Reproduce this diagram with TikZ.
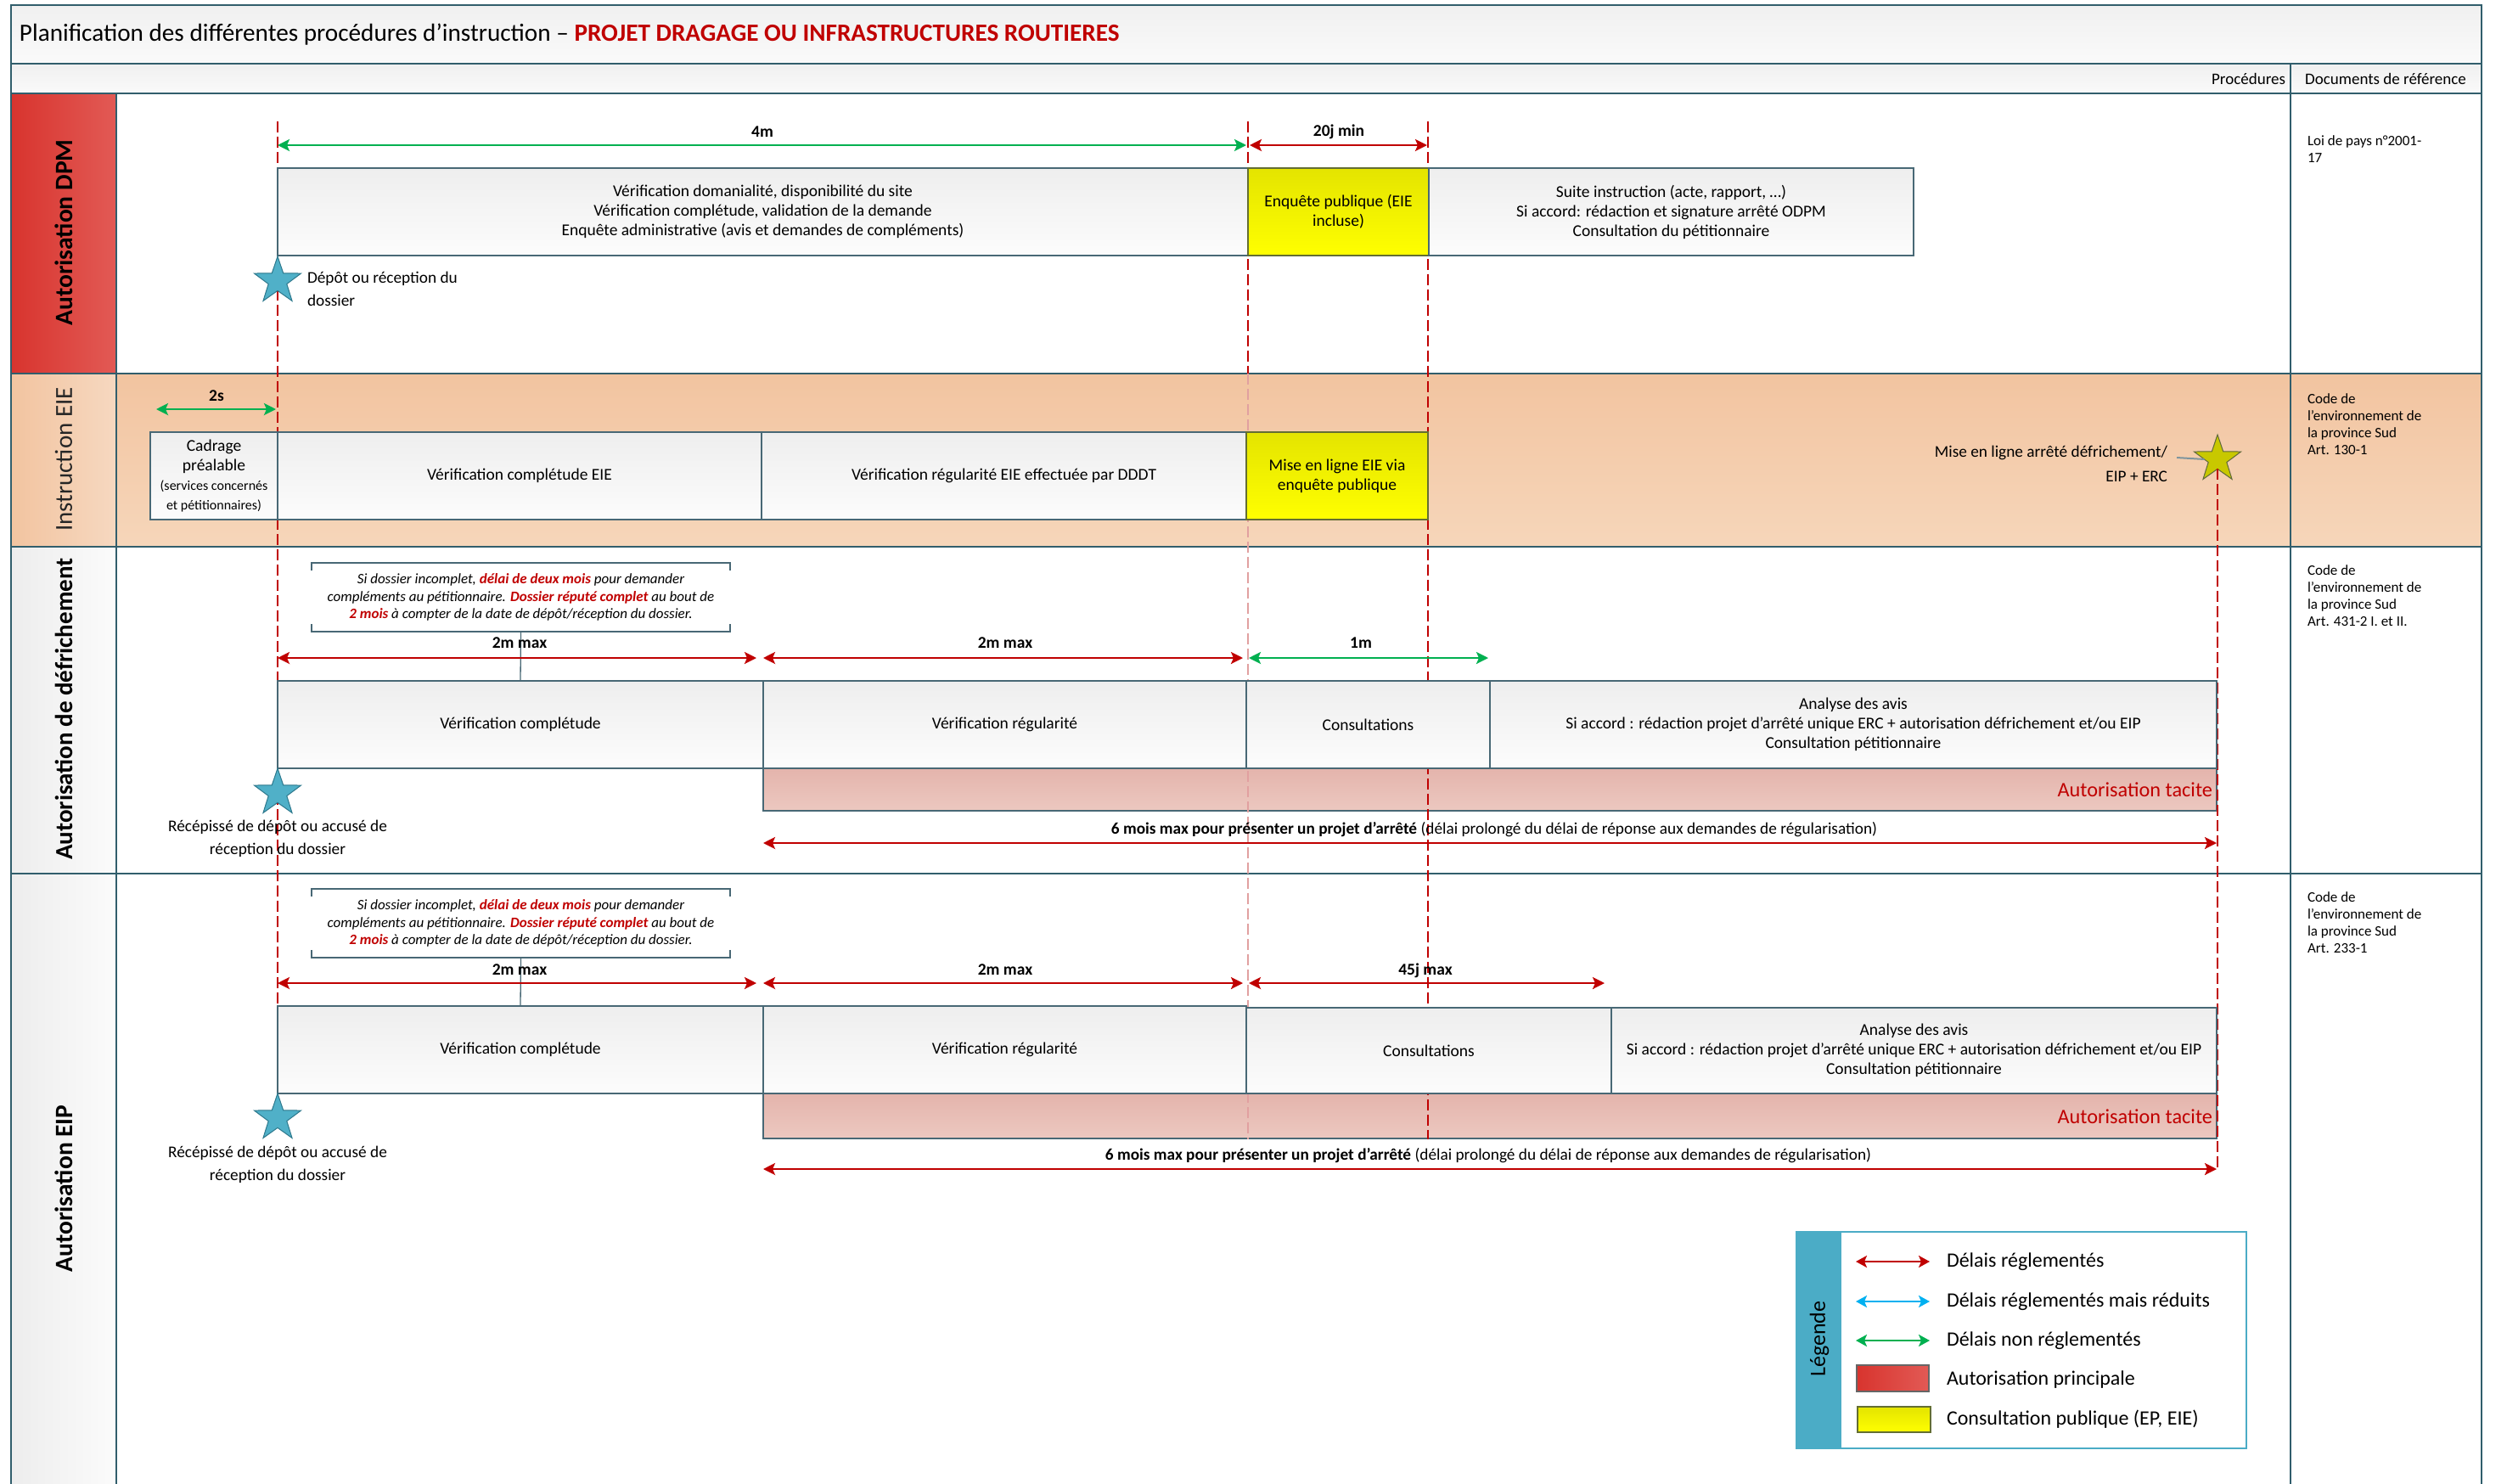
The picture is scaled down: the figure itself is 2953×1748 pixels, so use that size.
\documentclass[tikz,border=0pt]{standalone}
\usepackage{fontspec}
\setmainfont{Carlito}
\usetikzlibrary{arrows.meta,shapes.geometric}
\definecolor{frame}{RGB}{49,94,108}
\definecolor{boxln}{RGB}{72,104,117}
\definecolor{darkred}{RGB}{192,0,0}
\definecolor{dgreen}{RGB}{0,176,80}
\definecolor{lblue}{RGB}{0,176,240}
\definecolor{starblue}{RGB}{80,176,200}
\definecolor{starblueD}{RGB}{45,120,140}
\definecolor{legteal}{RGB}{75,172,198}
\definecolor{redA}{RGB}{216,52,46}
\definecolor{redB}{RGB}{226,90,85}
\definecolor{orA}{RGB}{242,196,160}
\definecolor{orB}{RGB}{246,214,186}
\definecolor{orC}{RGB}{246,216,192}
\definecolor{pinkA}{RGB}{228,180,172}
\definecolor{pinkB}{RGB}{236,200,192}
\definecolor{yelA}{RGB}{228,228,0}
\definecolor{yelB}{RGB}{255,255,0}
\definecolor{yelD}{RGB}{100,110,50}
\definecolor{procA}{RGB}{238,238,238}
\definecolor{procB}{RGB}{252,252,252}
\definecolor{hdrA}{RGB}{240,240,240}
\definecolor{hdrB}{RGB}{250,250,250}
\definecolor{grA}{RGB}{237,237,237}
\definecolor{grB}{RGB}{251,251,251}
\definecolor{ystarC}{RGB}{200,200,0}
\definecolor{ystarD}{RGB}{95,105,60}
\definecolor{lightdash}{RGB}{225,160,160}
\newcommand\myfs[2]{\fontsize{#1pt}{#2pt}\selectfont}
\tikzset{
  every node/.style={inner sep=0pt, outer sep=0pt},
  proc/.style={draw=boxln, line width=1.3pt, top color=procA, bottom color=procB, anchor=north west, align=center, font=\myfs{19.5}{23}},
  pubc/.style={proc, top color=yelA, bottom color=yelB, draw=yelD},
  tacite/.style={draw=boxln, line width=1.3pt, top color=pinkA, bottom color=pinkB, anchor=north west},
  dur/.style={line width=2.6pt, {Stealth[length=14pt,width=14pt,inset=3pt]}-{Stealth[length=14pt,width=14pt,inset=3pt]}},
  durlbl/.style={font=\myfs{19.5}{22}\bfseries},
  vdash/.style={draw=darkred, line width=1.4pt, dash pattern=on 13pt off 5pt},
  lanelbl/.style={rotate=90, font=\myfs{29.5}{34}\bfseries},
  lanesep/.style={draw=frame, line width=2.6pt},
  colsep/.style={draw=frame, line width=2pt},
  bstar/.style={star, star points=5, star point ratio=2.55, minimum size=58pt, fill=starblue, draw=starblueD, line width=1pt},
  ystar/.style={bstar, fill=ystarC, draw=ystarD},
  refdoc/.style={anchor=west, align=left, font=\myfs{17}{20}},
  notetxt/.style={align=center, font=\myfs{17}{20.5}\itshape, minimum width=493pt, minimum height=81pt},
  notebr/.style={draw=boxln, line width=1.3pt},
  startxt/.style={font=\myfs{19.3}{27}},
  legtxt/.style={anchor=west, font=\myfs{24}{28}},
  sixm/.style={font=\myfs{19.3}{22}},
}
\begin{document}
\begin{tikzpicture}[x=1pt,y=-1pt]
\useasboundingbox (0,0) rectangle (2953,1748);
% ---------- backgrounds
\fill[top color=hdrA, bottom color=hdrB] (13,6) rectangle (2923,75);
\fill[top color=hdrA, bottom color=hdrB] (13,75) rectangle (2923,110);
\fill[left color=redA, right color=redB] (13,110) rectangle (137,440);
\fill[top color=orA, bottom color=orB] (137,440) rectangle (2923,644);
\fill[left color=orA, right color=orC] (13,440) rectangle (137,644);
\fill[left color=grA, right color=grB] (13,644) rectangle (137,1029);
\fill[left color=grA, right color=grB] (13,1029) rectangle (137,1760);
% ---------- frame
\draw[lanesep] (13,1760) -- (13,6) -- (2923,6) -- (2923,1760);
\foreach \yy in {75,110,440,644,1029} \draw[lanesep] (13,\yy) -- (2923,\yy);
\draw[colsep] (137,110) -- (137,1760);
\draw[colsep] (2698,75) -- (2698,1760);
% ---------- title and headers
\node[anchor=west, font=\myfs{29.2}{33}] (title) at (23,41)
  {Planification des différentes procédures d’instruction – {\bfseries\color{darkred}PROJET DRAGAGE OU INFRASTRUCTURES ROUTIERES}};
\node[anchor=east, font=\myfs{19}{22}] (hproc) at (2692,93) {Procédures};
\node[font=\myfs{19}{22}] (hdoc) at (2810,93) {Documents de référence};
% ---------- lane labels
\node[lanelbl] (lDPM) at (75,274) {Autorisation DPM};
\node[lanelbl, font=\myfs{29}{34}\mdseries, text=black!85] (lEIE) at (75,541) {Instruction EIE};
\node[lanelbl, font=\myfs{29}{34}\bfseries] (lDEF) at (75,835) {Autorisation de défrichement};
\node[lanelbl] (lEIP) at (75,1400) {Autorisation EIP};
% ---------- reference documents
\node[refdoc] (r1) at (2718,176) {Loi de pays n°2001-\\17};
\node[refdoc] (r2) at (2718,500) {Code de\\l’environnement de\\la province Sud\\Art. 130-1};
\node[refdoc] (r3) at (2718,702) {Code de\\l’environnement de\\la province Sud\\Art. 431-2 I. et II.};
\node[refdoc] (r4) at (2718,1087) {Code de\\l’environnement de\\la province Sud\\Art. 233-1};
% ---------- tacit authorisation bands
\node[tacite, minimum width=1712pt, minimum height=50pt] (p1) at (899,905) {};
\node[tacite, minimum width=1712pt, minimum height=53pt] (p2) at (899,1288) {};
\node[anchor=east, text=darkred, font=\myfs{24.3}{28}] (t1) at (2606,930) {Autorisation tacite};
\node[anchor=east, text=darkred, font=\myfs{24.3}{28}] (t2) at (2606,1315) {Autorisation tacite};
% ---------- dashed milestones
\draw[vdash] (327,143) -- (327,1185);
\draw[vdash] (1470,143) -- (1470,440);
\draw[vdash, draw=lightdash] (1470,440) -- (1470,1342);
\draw[vdash] (1682,143) -- (1682,1342);
% ---------- DPM lane
\node[proc, minimum width=1143pt, minimum height=103pt] (b1) at (327,198)
  {Vérification domanialité, disponibilité du site\\Vérification complétude, validation de la demande\\Enquête administrative (avis et demandes de compléments)};
\node[pubc, minimum width=213pt, minimum height=103pt] (y1) at (1470,198) {Enquête publique (EIE\\incluse)};
\node[proc, minimum width=571pt, minimum height=103pt] (b2) at (1683,198)
  {Suite instruction (acte, rapport, …)\\Si accord: rédaction et signature arrêté ODPM\\Consultation du pétitionnaire};
\draw[dur, dgreen] (327,171) -- (1468,171);
\node[durlbl] (l4m) at (898,155) {4m};
\draw[dur, darkred] (1472,171) -- (1681,171);
\node[durlbl] (l20) at (1577,155) {20j min};
\node[bstar] (s1) at (327,331) {};
\node[startxt, anchor=west, align=left] (s1t) at (362,340) {Dépôt ou réception du\\dossier};
% ---------- EIE lane
\node[proc, minimum width=150pt, minimum height=103pt] (c0) at (177,509)
  {Cadrage\\préalable\\\myfs{16}{21}(services concernés\\\myfs{16}{21}et pétitionnaires)};
\node[proc, minimum width=570pt, minimum height=103pt] (c1) at (327,509) {Vérification complétude EIE};
\node[proc, minimum width=571pt, minimum height=103pt] (c2) at (897,509) {Vérification régularité EIE effectuée par DDDT};
\node[pubc, minimum width=214pt, minimum height=103pt] (y2) at (1468,509) {Mise en ligne EIE via\\enquête publique};
\draw[dur, dgreen] (184,482) -- (325,482);
\node[durlbl] (l2s) at (255,466) {2s};
\node[ystar] (s4) at (2612,541) {};
\draw[vdash] (s4.south) -- (2612,1378);
\node[startxt, font=\myfs{19.3}{29}, anchor=east, align=right] (s4t) at (2553,546) {Mise en ligne arrêté défrichement/\\EIP + ERC};
\coordinate (s4c) at (2564,539);
\draw[line width=2pt, color=boxln!70] (s4c) -- (s4.west);
% ---------- défrichement lane
\node[notetxt] (n1) at (613.5,703.5)
  {Si dossier incomplet, {\bfseries\color{darkred}délai de deux mois} pour demander\\compléments au pétitionnaire. {\bfseries\color{darkred}Dossier réputé complet} au bout de\\{\bfseries\color{darkred}2 mois} à compter de la date de dépôt/réception du dossier.};
\draw[notebr] ([yshift=-9pt]n1.north west) -- (n1.north west) -- (n1.north east) -- ([yshift=-9pt]n1.north east);
\draw[notebr] ([yshift=9pt]n1.south west) -- (n1.south west) -- (n1.south east) -- ([yshift=9pt]n1.south east);
\node[proc, minimum width=572pt, minimum height=103pt] (d1) at (327,802) {Vérification complétude};
\node[proc, minimum width=569pt, minimum height=103pt] (d2) at (899,802) {Vérification régularité};
\node[proc, minimum width=287pt, minimum height=103pt] (d3) at (1468,802) {Consultations};
\node[proc, minimum width=856pt, minimum height=103pt] (d4) at (1755,802)
  {Analyse des avis\\Si accord : rédaction projet d’arrêté unique ERC + autorisation défrichement et/ou EIP\\Consultation pétitionnaire};
\draw[notebr] (n1.south) -- (d1.north);
\node[durlbl] (l2a) at (612,757) {2m max};
\node[durlbl] (l2b) at (1184,757) {2m max};
\node[durlbl] (l1m) at (1603,757) {1m};
\draw[dur, darkred] (327,775) -- (891,775);
\draw[dur, darkred] (899,775) -- (1464,775);
\draw[dur, dgreen] (1471,775) -- (1753,775);
\node[bstar] (s2) at (327,934) {};
\node[startxt, align=center] (s2t) at (327,988) {Récépissé de dépôt ou accusé de\\réception du dossier};
\node[sixm] (m1) at (1760,977) {{\bfseries 6 mois max pour présenter un projet d’arrêté} (délai prolongé du délai de réponse aux demandes de régularisation)};
\draw[dur, darkred] (899,993) -- (2611,993);
% ---------- EIP lane
\node[notetxt] (n2) at (613.5,1087.5)
  {Si dossier incomplet, {\bfseries\color{darkred}délai de deux mois} pour demander\\compléments au pétitionnaire. {\bfseries\color{darkred}Dossier réputé complet} au bout de\\{\bfseries\color{darkred}2 mois} à compter de la date de dépôt/réception du dossier.};
\draw[notebr] ([yshift=-9pt]n2.north west) -- (n2.north west) -- (n2.north east) -- ([yshift=-9pt]n2.north east);
\draw[notebr] ([yshift=9pt]n2.south west) -- (n2.south west) -- (n2.south east) -- ([yshift=9pt]n2.south east);
\node[proc, minimum width=572pt, minimum height=103pt] (e1) at (327,1185) {Vérification complétude};
\node[proc, minimum width=569pt, minimum height=103pt] (e2) at (899,1185) {Vérification régularité};
\node[proc, minimum width=430pt, minimum height=101pt] (e3) at (1468,1187) {Consultations};
\node[proc, minimum width=713pt, minimum height=101pt] (e4) at (1898,1187)
  {Analyse des avis\\Si accord : rédaction projet d’arrêté unique ERC + autorisation défrichement et/ou EIP\\Consultation pétitionnaire};
\draw[notebr] (n2.south) -- (e1.north);
\node[durlbl] (l2c) at (612,1142) {2m max};
\node[durlbl] (l2d) at (1184,1142) {2m max};
\node[durlbl] (l45) at (1679,1143) {45j max};
\draw[dur, darkred] (327,1158) -- (891,1158);
\draw[dur, darkred] (899,1158) -- (1464,1158);
\draw[dur, darkred] (1471,1158) -- (1890,1158);
\node[bstar] (s3) at (327,1317) {};
\node[startxt, align=center] (s3t) at (327,1372) {Récépissé de dépôt ou accusé de\\réception du dossier};
\node[sixm] (m2) at (1753,1361) {{\bfseries 6 mois max pour présenter un projet d’arrêté} (délai prolongé du délai de réponse aux demandes de régularisation)};
\draw[dur, darkred] (899,1377) -- (2611,1377);
% ---------- legend
\node[draw=legteal, line width=1.3pt, fill=white, minimum width=530pt, minimum height=255pt, anchor=north west] (leg) at (2116,1451) {};
\fill[legteal] (leg.north west) rectangle (2169,1706);
\node[rotate=90, font=\myfs{26}{30}] (legt) at (2143,1577) {Légende};
\draw[line width=2.2pt, darkred, {Stealth[length=13pt,width=14pt,inset=3pt]}-{Stealth[length=13pt,width=14pt,inset=3pt]}] (2186,1486) -- (2273,1486);
\draw[line width=2.2pt, lblue, {Stealth[length=13pt,width=14pt,inset=3pt]}-{Stealth[length=13pt,width=14pt,inset=3pt]}] (2186,1533) -- (2273,1533);
\draw[line width=2.2pt, dgreen, {Stealth[length=13pt,width=14pt,inset=3pt]}-{Stealth[length=13pt,width=14pt,inset=3pt]}] (2186,1579) -- (2273,1579);
\node[draw=black!60, line width=1.2pt, left color=redA, right color=redB, minimum width=85pt, minimum height=31pt, anchor=north west] (lgr) at (2187,1608) {};
\node[draw=yelD, line width=1.2pt, top color=yelA, bottom color=yelB, minimum width=86pt, minimum height=30pt, anchor=north west] (lgy) at (2188,1657) {};
\node[legtxt] (lg1) at (2293,1486) {Délais réglementés};
\node[legtxt] (lg2) at (2293,1533) {Délais réglementés mais réduits};
\node[legtxt] (lg3) at (2293,1579) {Délais non réglementés};
\node[legtxt] (lg4) at (2293,1625) {Autorisation principale};
\node[legtxt] (lg5) at (2293,1672) {Consultation publique (EP, EIE)};
\end{tikzpicture}
\end{document}
